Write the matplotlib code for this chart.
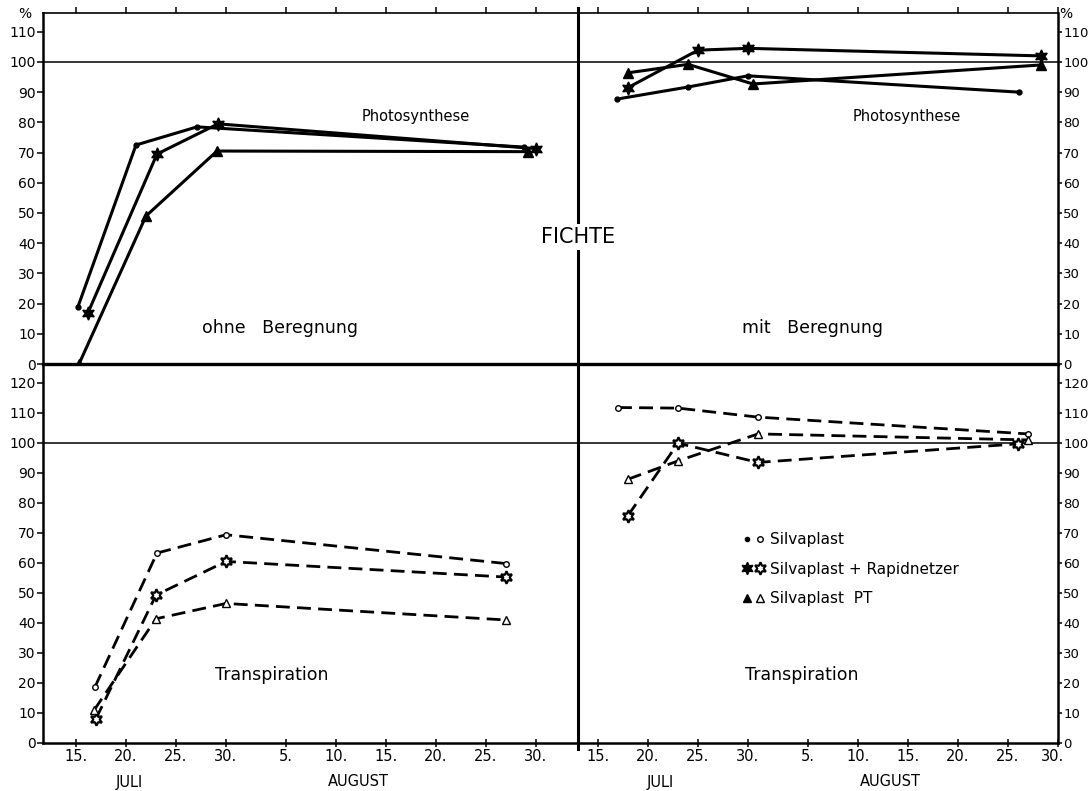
import matplotlib
matplotlib.use("Agg")
import matplotlib.pyplot as plt
import matplotlib.transforms as mtransforms
from matplotlib.lines import Line2D
from matplotlib.legend_handler import HandlerTuple

# days counted from 1 July (1. Aug = 32)
# Photosynthese, ohne Beregnung
ps_ohne_sil_x = [15.2, 21.0, 27.1, 59.8]
ps_ohne_sil_y = [19, 72.5, 78.5, 71.8]
ps_ohne_rap_x = [16.2, 23.1, 29.2, 61.0]
ps_ohne_rap_y = [17, 69.5, 79.5, 71.3]
ps_ohne_pt_x = [15.3, 22.0, 29.1, 60.2]
ps_ohne_pt_y = [0, 49, 70.5, 70.3]

# Photosynthese, mit Beregnung
ps_mit_sil_x = [16.9, 24.0, 30.0, 57.1]
ps_mit_sil_y = [87.7, 91.7, 95.4, 90]
ps_mit_rap_x = [18.0, 25.0, 30.0, 59.3]
ps_mit_rap_y = [91.5, 103.9, 104.5, 102]
ps_mit_pt_x = [18.0, 24.0, 30.5, 59.3]
ps_mit_pt_y = [96.4, 99.2, 92.7, 99]

# Transpiration, ohne Beregnung
tr_ohne_sil_x = [16.9, 23.1, 30.0, 58.0]
tr_ohne_sil_y = [18.7, 63.3, 69.4, 59.8]
tr_ohne_rap_x = [17.0, 23.0, 30.0, 58.0]
tr_ohne_rap_y = [8.1, 49.3, 60.5, 55.3]
tr_ohne_pt_x = [16.8, 23.0, 30.0, 58.0]
tr_ohne_pt_y = [10.9, 41.4, 46.5, 41]

# Transpiration, mit Beregnung
tr_mit_sil_x = [17.0, 23.0, 31.0, 58.0]
tr_mit_sil_y = [111.8, 111.6, 108.6, 103]
tr_mit_rap_x = [18.0, 23.0, 31.0, 57.0]
tr_mit_rap_y = [75.8, 99.9, 93.5, 99.7]
tr_mit_pt_x = [18.0, 23.0, 31.0, 58.0]
tr_mit_pt_y = [87.9, 94, 103, 101]

xtick_pos = [15, 20, 25, 30, 36, 41, 46, 51, 56, 61]
xtick_lab = ["15.", "20.", "25.", "30.", "5.", "10.", "15.", "20.", "25.", "30."]
legend_labels = ["Silvaplast", "Silvaplast + Rapidnetzer", "Silvaplast  PT"]

W, H = 1090, 791
plt.rcParams['font.family'] = ['DejaVu Sans']
fig = plt.figure(figsize=(W / 100, H / 100), dpi=100)

xl, xm, xr = 43, 578, 1058
yt, y0, yb = 13, 364, 743

def fx(px):
    return px / W

def fy(py):
    return 1 - py / H

axTL = fig.add_axes([fx(xl), fy(y0), fx(xm - xl), (y0 - yt) / H])
axTR = fig.add_axes([fx(xm), fy(y0), fx(xr - xm), (y0 - yt) / H])
axBL = fig.add_axes([fx(xl), fy(yb), fx(xm - xl), (yb - y0) / H])
axBR = fig.add_axes([fx(xm), fy(yb), fx(xr - xm), (yb - y0) / H])

star = (6, 1, 0)
solid = dict(color='k', lw=2.2, ls='-')
dash = dict(color='k', lw=2.0, ls=(0, (5, 2.6)))

def draw_top(ax, sx, sy, rx, ry, px, py):
    ax.plot(sx, sy, marker='o', ms=3.5, **solid)
    ax.plot(rx, ry, marker=star, ms=9.5, **solid)
    ax.plot(px, py, marker='^', ms=6.5, **solid)

def draw_bot(ax, sx, sy, rx, ry, px, py):
    ax.plot(sx, sy, marker='o', ms=4, mfc='white', mew=1.0, **dash)
    ax.plot(rx, ry, marker=star, ms=9, mfc='white', mew=1.6, **dash)
    ax.plot(px, py, marker='^', ms=6, mfc='white', mew=1.0, **dash)

draw_top(axTL, ps_ohne_sil_x, ps_ohne_sil_y, ps_ohne_rap_x, ps_ohne_rap_y, ps_ohne_pt_x, ps_ohne_pt_y)
draw_top(axTR, ps_mit_sil_x, ps_mit_sil_y, ps_mit_rap_x, ps_mit_rap_y, ps_mit_pt_x, ps_mit_pt_y)
draw_bot(axBL, tr_ohne_sil_x, tr_ohne_sil_y, tr_ohne_rap_x, tr_ohne_rap_y, tr_ohne_pt_x, tr_ohne_pt_y)
draw_bot(axBR, tr_mit_sil_x, tr_mit_sil_y, tr_mit_rap_x, tr_mit_rap_y, tr_mit_pt_x, tr_mit_pt_y)

for ax in (axTL, axBL):
    ax.set_xlim(11.7, 65.2)
for ax in (axTR, axBR):
    ax.set_xlim(13, 61)
for ax in (axTL, axTR):
    ax.set_ylim(0, 116.2)
    ax.set_yticks(range(0, 111, 10))
for ax in (axBL, axBR):
    ax.set_ylim(0, 126.3)
    ax.set_yticks(range(0, 121, 10))

for ax in (axTL, axTR, axBL, axBR):
    ax.axhline(100, color='k', lw=1.1, zorder=1)
    ax.set_xticks(xtick_pos)
    ax.set_facecolor('none')
    for s in ax.spines.values():
        s.set_color('k')
    ax.tick_params(colors='k', labelsize=10, length=4, width=1.1, pad=1.2)

# top panels: ticks on top, no labels
for ax in (axTL, axTR):
    ax.tick_params(axis='x', bottom=False, top=True, labelbottom=False, direction='out')
    ax.spines['top'].set_linewidth(1.2)
    ax.spines['bottom'].set_linewidth(2.4)
for ax in (axBL, axBR):
    ax.spines['top'].set_visible(False)
    ax.spines['bottom'].set_linewidth(1.8)
    ax.set_xticklabels(xtick_lab)
    ax.tick_params(axis='x', direction='inout', length=6, labelsize=10.5)

for ax in (axTL, axBL):
    ax.spines['right'].set_visible(False)
    ax.spines['left'].set_linewidth(1.8)
for ax in (axTR, axBR):
    ax.spines['left'].set_visible(False)
    ax.spines['right'].set_linewidth(1.8)
    ax.yaxis.tick_right()
    ax.tick_params(axis='y', left=False, right=True, labelleft=False, labelright=True,
                   length=3, pad=0.8, labelsize=9.5)

# nudge the corner "30." left so it clears the "0" of the right axis
last = axBR.get_xticklabels()[-1]
last.set_transform(last.get_transform() +
                   mtransforms.ScaledTranslation(-5 / 100, 0, fig.dpi_scale_trans))

# middle vertical line
fig.add_artist(Line2D([fx(xm), fx(xm)], [fy(8), fy(749)], color='k', lw=2.2,
                      transform=fig.transFigure))

# texts
fig.text(fx(578), fy(237), "FICHTE", ha='center', va='center', fontsize=15,
         bbox=dict(facecolor='white', edgecolor='none', pad=2))
fig.text(fx(362), fy(116), "Photosynthese", ha='left', va='center', fontsize=10.5)
fig.text(fx(853), fy(117), "Photosynthese", ha='left', va='center', fontsize=10.5)
fig.text(fx(202), fy(328), "ohne   Beregnung", ha='left', va='center', fontsize=12.5)
fig.text(fx(742), fy(328), "mit   Beregnung", ha='left', va='center', fontsize=12.5)
fig.text(fx(215), fy(675), "Transpiration", ha='left', va='center', fontsize=12.5)
fig.text(fx(745), fy(675), "Transpiration", ha='left', va='center', fontsize=12.5)
fig.text(fx(25), fy(14), "%", ha='center', va='center', fontsize=10)
fig.text(fx(1066), fy(14), "%", ha='center', va='center', fontsize=10)
fig.text(fx(129), fy(782), "JULI", ha='center', va='center', fontsize=10.5)
fig.text(fx(358), fy(782), "AUGUST", ha='center', va='center', fontsize=10.5)
fig.text(fx(660), fy(782), "JULI", ha='center', va='center', fontsize=10.5)
fig.text(fx(890), fy(782), "AUGUST", ha='center', va='center', fontsize=10.5)

# legend with filled + open marker pairs
def pair(marker, ms_f, ms_o, mew):
    f = Line2D([], [], marker=marker, ms=ms_f, color='k', ls='')
    o = Line2D([], [], marker=marker, ms=ms_o, mfc='white', mec='k', mew=mew, ls='')
    return (f, o)

handles = [pair('o', 3, 4, 1.0), pair(star, 9, 9, 1.5), pair('^', 5.5, 5.5, 1.0)]
axBR.legend(handles, legend_labels, handler_map={tuple: HandlerTuple(ndivide=None, pad=0.1)},
            loc='upper left', bbox_to_anchor=((742 - xm) / (xr - xm), (yb - 532) / (yb - y0)),
            frameon=False, fontsize=11, handlelength=1.5, handletextpad=0.35,
            labelspacing=0.95, borderpad=0, borderaxespad=0)

fig.savefig("out.png", dpi=100)
